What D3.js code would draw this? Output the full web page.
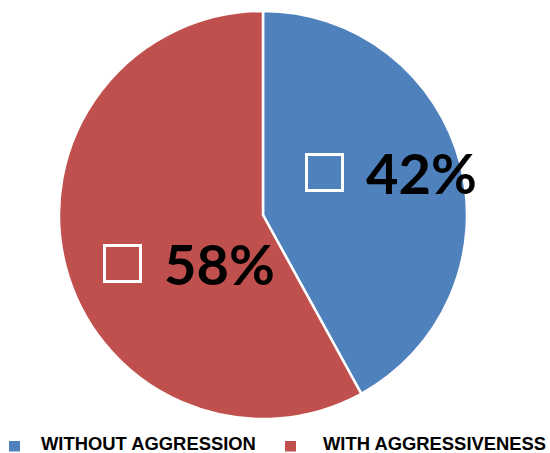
<!DOCTYPE html>
<html>
<head>
<meta charset="utf-8">
<script src="https://cdn.jsdelivr.net/npm/d3@7"></script>
<style>
  html, body { margin: 0; padding: 0; background: #ffffff; }
  svg { display: block; }
</style>
</head>
<body>
<script>
// Share of respondents by behaviour
const categories = ["WITHOUT AGGRESSION", "WITH AGGRESSIVENESS"];
const values = [42, 58];
const colors = ["#4F81BD", "#C0504D"];

const width = 550, height = 453;
const cx = 263, cy = 215, radius = 204;

const svg = d3.select("body").append("svg")
  .attr("width", width)
  .attr("height", height);

const data = categories.map((c, i) => ({ name: c, value: values[i], color: colors[i] }));

const pie = d3.pie().sort(null).value(d => d.value);
const arcs = pie(data);
const arc = d3.arc().innerRadius(0).outerRadius(radius);

const g = svg.append("g").attr("transform", `translate(${cx},${cy})`);

g.selectAll("path.slice")
  .data(arcs)
  .join("path")
  .attr("class", "slice")
  .attr("d", arc)
  .attr("fill", d => d.data.color)
  .attr("stroke", "#ffffff")
  .attr("stroke-width", 2.5)
  .attr("stroke-linejoin", "miter");

// Data labels: hollow white square followed by the percentage,
// anchored relative to the pie centre
const labelAnchors = [{ x: 42, y: -62 }, { x: -160, y: 29 }];

const labels = g.selectAll("g.label")
  .data(arcs)
  .join("g")
  .attr("class", "label")
  .attr("transform", (d, i) => `translate(${labelAnchors[i].x},${labelAnchors[i].y})`);

labels.append("rect")
  .attr("x", 1.5)
  .attr("y", 1.5)
  .attr("width", 36)
  .attr("height", 36)
  .attr("fill", "none")
  .attr("stroke", "#ffffff")
  .attr("stroke-width", 3);

labels.append("text")
  .attr("x", 61)
  .attr("y", 41)
  .attr("font-family", "Lato, 'Open Sans', sans-serif")
  .attr("font-weight", "bold")
  .attr("font-size", 56)
  .attr("fill", "#000000")
  .text(d => d.data.value + "%");

// Legend
const legendX = [9, 285];
const legendTextGap = [32, 38];
const legend = svg.append("g").attr("class", "legend");
const items = legend.selectAll("g")
  .data(data)
  .join("g")
  .attr("transform", (d, i) => `translate(${legendX[i]},440)`);

items.append("rect")
  .attr("y", 1)
  .attr("width", 11)
  .attr("height", 10.5)
  .attr("fill", d => d.color);

items.append("text")
  .attr("x", (d, i) => legendTextGap[i])
  .attr("y", 9.5)
  .attr("font-family", "'Liberation Sans', Arial, sans-serif")
  .attr("font-weight", "bold")
  .attr("font-size", 18.4)
  .attr("fill", "#000000")
  .text(d => d.name);
</script>
</body>
</html>
